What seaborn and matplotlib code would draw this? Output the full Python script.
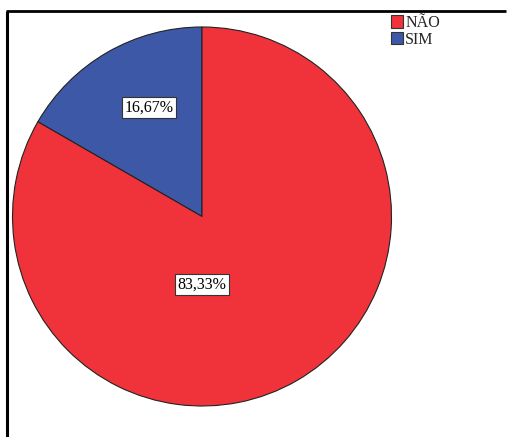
import numpy as np
import matplotlib
matplotlib.use("Agg")
import matplotlib.pyplot as plt
from matplotlib.lines import Line2D
from matplotlib.patches import Patch
import seaborn as sns

categories = ["NÃO", "SIM"]
percentages = [83.33, 16.67]
value_labels = ["83,33%", "16,67%"]
colors = ["#F0333B", "#3E58A8"]

sns.set_style("white")
plt.rcParams["font.family"] = ["Liberation Serif", "DejaVu Serif"]

W, H = 510, 437
fig = plt.figure(figsize=(W / 100, H / 100), dpi=100)
fig.patch.set_facecolor("white")

# outer frame (top and left edges)
fig.add_artist(Line2D([7 / W, 7 / W], [0, 1 - 10.5 / H], transform=fig.transFigure,
                      color="black", lw=2.2, solid_capstyle="butt"))
fig.add_artist(Line2D([6 / W, 506 / W], [1 - 10.5 / H, 1 - 10.5 / H], transform=fig.transFigure,
                      color="black", lw=2.0, solid_capstyle="butt"))

# pie axes: centre (202, 216.5) px, radius 189 px
cx, cy, r = 202, 216.5, 189.5
ax = fig.add_axes([(cx - r) / W, 1 - (cy + r) / H, 2 * r / W, 2 * r / H])
ax.axis("off")

# SIM first, counterclockwise from 12 o'clock
order = [1, 0]
wedges, _ = ax.pie([percentages[i] for i in order], colors=[colors[i] for i in order],
                   startangle=90, counterclock=True, radius=1,
                   wedgeprops=dict(edgecolor="#222222", linewidth=0.8))
ax.set_xlim(-1, 1)
ax.set_ylim(-1, 1)
ax.set_aspect("equal")

label_pos = {1: (116, 0.64), 0: (270, 0.36)}
for i in order:
    ang, d = label_pos[i]
    x, y = d * np.cos(np.radians(ang)), d * np.sin(np.radians(ang))
    ax.text(x, y, value_labels[i], ha="center", va="center", fontsize=11.5, color="black",
            bbox=dict(boxstyle="square,pad=0.15", facecolor="white", edgecolor="#333333", linewidth=0.8))

handles = [Patch(facecolor=colors[i], edgecolor="#333333", linewidth=0.8) for i in range(2)]
fig.legend(handles, categories, loc="upper left", bbox_to_anchor=(391 / W, 1 - 15 / H),
           frameon=False, fontsize=11.5, handlelength=0.75, handleheight=0.8,
           handletextpad=0.15, labelspacing=0.05, borderpad=0.0, borderaxespad=0.0)

fig.savefig("out.png", dpi=100, facecolor="white")
